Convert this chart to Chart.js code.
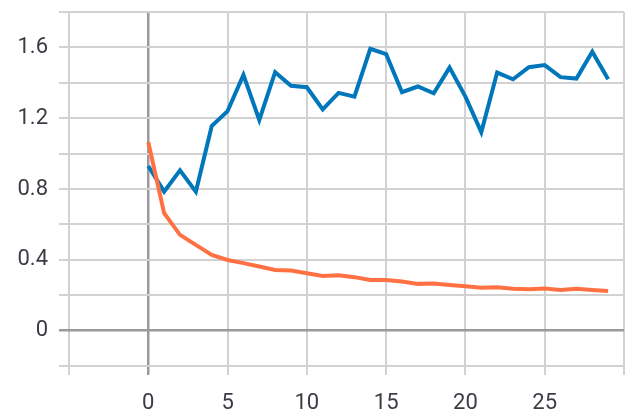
<!DOCTYPE html>
<html>
<head>
<meta charset="utf-8">
<script src="https://cdn.jsdelivr.net/npm/chart.js@4/dist/chart.umd.min.js"></script>
<style>
  html, body { margin: 0; padding: 0; background: #fff; }
  #wrap { width: 644px; height: 409px; }
</style>
</head>
<body>
<div id="wrap"><canvas id="chart"></canvas></div>
<script>
const steps = [];
for (let i = 0; i < 30; ++i) steps.push(i);

const blueValues = [0.93, 0.785, 0.905, 0.785, 1.155, 1.24, 1.445, 1.19, 1.46, 1.383,
    1.375, 1.25, 1.343, 1.322, 1.592, 1.562, 1.347, 1.379, 1.341, 1.486,
    1.322, 1.121, 1.458, 1.42, 1.488, 1.5, 1.432, 1.424, 1.576, 1.42];

const orangeValues = [1.064, 0.663, 0.541, 0.484, 0.428, 0.399, 0.381, 0.362, 0.343, 0.339,
    0.324, 0.309, 0.313, 0.302, 0.286, 0.286, 0.277, 0.264, 0.266, 0.258,
    0.251, 0.242, 0.245, 0.236, 0.234, 0.238, 0.23, 0.236, 0.23, 0.224];

const xLabels = [0, 5, 10, 15, 20, 25];
const yLabels = [0, 0.4, 0.8, 1.2, 1.6];

const toPoints = (vals) => vals.map((v, i) => ({ x: steps[i], y: v }));

const gridColor = (ctx) => (ctx.tick && ctx.tick.value === 0) ? '#9a9a9a' : '#d2d2d2';
const gridWidth = (ctx) => (ctx.tick && ctx.tick.value === 0) ? 2.5 : 2;

const ctx = document.getElementById('chart');
new Chart(ctx, {
    type: 'line',
    data: {
        datasets: [
            {
                label: 'orange',
                data: toPoints(orangeValues),
                borderColor: '#ff7043',
                borderWidth: 4,
                pointRadius: 0,
                tension: 0
            },
            {
                label: 'blue',
                data: toPoints(blueValues),
                borderColor: '#0077bb',
                borderWidth: 4,
                pointRadius: 0,
                tension: 0
            }
        ]
    },
    options: {
        responsive: true,
        maintainAspectRatio: false,
        animation: false,
        layout: { padding: { top: 12, right: 20, left: 0, bottom: 0 } },
        plugins: {
            legend: { display: false },
            tooltip: { enabled: false }
        },
        scales: {
            x: {
                type: 'linear',
                min: -5,
                max: 30,
                afterFit: (scale) => {
                    scale.height = 43;
                    scale.paddingLeft = 0;
                    scale.paddingRight = 0;
                },
                border: { display: false },
                grid: { color: gridColor, lineWidth: gridWidth, tickLength: 9 },
                ticks: {
                    stepSize: 5,
                    padding: 15,
                    color: '#3c3c44',
                    font: { family: 'Roboto', size: 22 },
                    maxRotation: 0,
                    callback: (v) => xLabels.includes(v) ? String(v) : ''
                }
            },
            y: {
                min: -0.2,
                max: 1.8,
                afterFit: (scale) => {
                    scale.width = 69;
                    scale.paddingTop = 0;
                    scale.paddingBottom = 0;
                },
                border: { display: false },
                grid: { color: gridColor, lineWidth: gridWidth, tickLength: 10 },
                ticks: {
                    stepSize: 0.2,
                    padding: 11,
                    color: '#3c3c44',
                    font: { family: 'Roboto', size: 22 },
                    callback: (v) => {
                        const r = Math.round(v * 10) / 10;
                        return yLabels.includes(r) ? String(r) : '';
                    }
                }
            }
        }
    }
});
</script>
</body>
</html>
